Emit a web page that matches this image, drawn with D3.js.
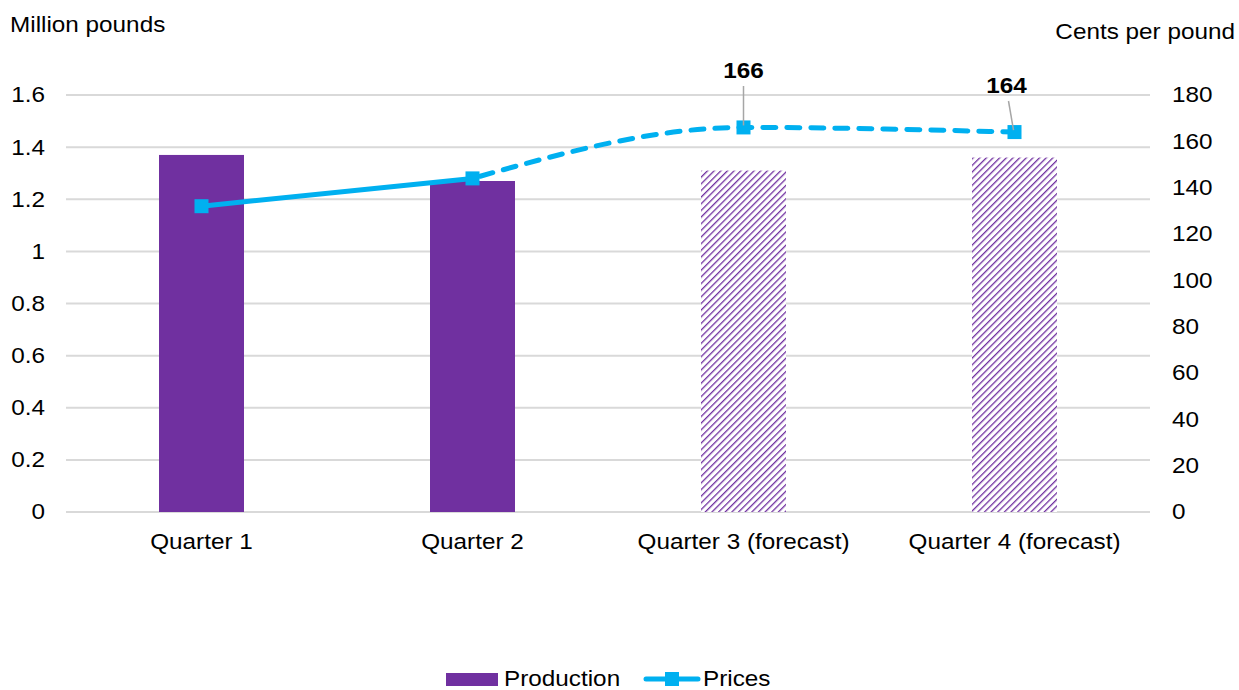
<!doctype html>
<html>
<head>
  <meta charset="utf-8">
  <title>Production and prices</title>
  <script src="https://cdnjs.cloudflare.com/ajax/libs/d3/7.8.5/d3.min.js"></script>
  <style>
    html, body { margin: 0; padding: 0; background: #fff; }
    svg { display: block; font-family: "Liberation Sans", Arial, sans-serif; }
  </style>
</head>
<body>
  <div id="chart"></div>
  <script>
    // data
    const quarters = ['Quarter 1', 'Quarter 2', 'Quarter 3 (forecast)', 'Quarter 4 (forecast)'];
    const production = [1.37, 1.27, 1.31, 1.36];
    const prices = [132, 144, 166, 164];
    const forecast = [false, false, true, true];
    const leftTicks = [0, 0.2, 0.4, 0.6, 0.8, 1, 1.2, 1.4, 1.6];
    const rightTicks = [0, 20, 40, 60, 80, 100, 120, 140, 160, 180];
    const labelled = [2, 3]; // price points with data labels

    const width = 1239, height = 690;
    const plotL = 66, plotR = 1150, plotT = 95, plotB = 512;
    const purple = '#7030A0', blue = '#00B0F0', grid = '#d9d9d9';
    const fs = 21.5, stretch = 'scale(1.13,1)'; // text in the original is a bit wide

    const svg = d3.select('#chart')
      .append('svg')
      .attr('width', width)
      .attr('height', height);

    // hatch for the forecast bars
    const pat = svg.append('defs').append('pattern')
      .attr('id', 'hatch')
      .attr('patternUnits', 'userSpaceOnUse')
      .attr('width', 4.7)
      .attr('height', 4.7)
      .attr('patternTransform', 'rotate(45)');
    pat.append('rect').attr('width', 4.7).attr('height', 4.7).attr('fill', '#fff');
    pat.append('line')
      .attr('x1', 0).attr('y1', 0).attr('x2', 0).attr('y2', 4.7)
      .attr('stroke', purple).attr('stroke-width', 2.6);

    function addText(g, x, y, str, anchor, bold) {
      return g.append('text')
        .attr('transform', `translate(${x},${y}) ${stretch}`)
        .attr('text-anchor', anchor || 'start')
        .attr('font-size', fs)
        .attr('font-weight', bold ? 'bold' : 'normal')
        .attr('fill', '#000')
        .text(str);
    }

    const x = d3.scaleBand().domain(quarters).range([plotL, plotR]);
    const yL = d3.scaleLinear().domain([0, 1.6]).range([plotB, plotT]);
    const yR = d3.scaleLinear().domain([0, 180]).range([plotB, plotT]);

    // gridlines
    svg.append('g')
      .selectAll('line')
      .data(leftTicks)
      .join('line')
      .attr('x1', plotL).attr('x2', plotR)
      .attr('y1', d => yL(d)).attr('y2', d => yL(d))
      .attr('stroke', grid).attr('stroke-width', 2);

    // left axis
    const axL = svg.append('g')
      .attr('transform', `translate(${plotL - 21},0)`)
      .call(d3.axisLeft(yL).tickValues(leftTicks).tickSize(0).tickPadding(0).tickFormat(d3.format('')));
    axL.select('.domain').remove();

    // right axis
    const axR = svg.append('g')
      .attr('transform', `translate(${plotR + 22},0)`)
      .call(d3.axisRight(yR).tickValues(rightTicks).tickSize(0).tickPadding(0));
    axR.select('.domain').remove();

    // category axis
    const axB = svg.append('g')
      .attr('transform', `translate(0,${plotB + 20})`)
      .call(d3.axisBottom(x).tickSize(0).tickPadding(0));
    axB.select('.domain').remove();

    svg.selectAll('.tick text')
      .attr('font-size', fs)
      .attr('fill', '#000')
      .attr('transform', stretch)
      .attr('font-family', '"Liberation Sans", Arial, sans-serif');
    axB.selectAll('.tick text').attr('dy', '0.8em');

    // bars
    const barW = 85;
    svg.append('g')
      .selectAll('rect')
      .data(quarters)
      .join('rect')
      .attr('x', d => x(d) + x.bandwidth() / 2 - barW / 2)
      .attr('width', barW)
      .attr('y', (d, i) => yL(production[i]))
      .attr('height', (d, i) => plotB - yL(production[i]))
      .attr('fill', (d, i) => forecast[i] ? 'url(#hatch)' : purple);

    // price line: solid for actuals, dashed smooth for forecast
    const pts = quarters.map((q, i) => [x(q) + x.bandwidth() / 2, yR(prices[i])]);
    const lastActual = forecast.indexOf(true) - 1;
    svg.append('path')
      .attr('d', d3.line()(pts.slice(0, lastActual + 1)))
      .attr('fill', 'none')
      .attr('stroke', blue)
      .attr('stroke-width', 5);
    svg.append('path')
      .attr('d', d3.line().curve(d3.curveMonotoneX)(pts.slice(lastActual)))
      .attr('fill', 'none')
      .attr('stroke', blue)
      .attr('stroke-width', 5)
      .attr('stroke-linecap', 'round')
      .attr('stroke-dasharray', '13 11')
      .attr('stroke-dashoffset', -8);

    svg.append('g')
      .selectAll('rect')
      .data(pts)
      .join('rect')
      .attr('x', d => d[0] - 7)
      .attr('y', d => d[1] - 7)
      .attr('width', 14)
      .attr('height', 14)
      .attr('fill', blue);

    // data labels with leader lines
    const lab = svg.append('g');
    lab.append('line')
      .attr('x1', pts[2][0]).attr('y1', 86)
      .attr('x2', pts[2][0]).attr('y2', pts[2][1] - 2)
      .attr('stroke', '#a6a6a6').attr('stroke-width', 1.5);
    lab.append('line')
      .attr('x1', pts[3][0] - 6).attr('y1', 101)
      .attr('x2', pts[3][0] - 1).attr('y2', pts[3][1] - 2)
      .attr('stroke', '#a6a6a6').attr('stroke-width', 1.5);
    labelled.forEach((d, i) => {
      addText(lab, pts[d][0] + (i === 0 ? 0 : -8), i === 0 ? 78 : 93, prices[d], 'middle', true);
    });

    // axis titles
    addText(svg, 10, 32, 'Million pounds');
    addText(svg, 1235, 39, 'Cents per pound', 'end');

    // legend
    const lg = svg.append('g').attr('transform', 'translate(446,679)');
    lg.append('rect').attr('x', 0).attr('y', -6).attr('width', 52).attr('height', 13).attr('fill', purple);
    addText(lg, 58, 7, 'Production');
    lg.append('line').attr('x1', 200).attr('x2', 252).attr('y1', 0).attr('y2', 0)
      .attr('stroke', blue).attr('stroke-width', 5).attr('stroke-linecap', 'round');
    lg.append('rect').attr('x', 219).attr('y', -7).attr('width', 14).attr('height', 14).attr('fill', blue);
    addText(lg, 257, 7, 'Prices');
  </script>
</body>
</html>
